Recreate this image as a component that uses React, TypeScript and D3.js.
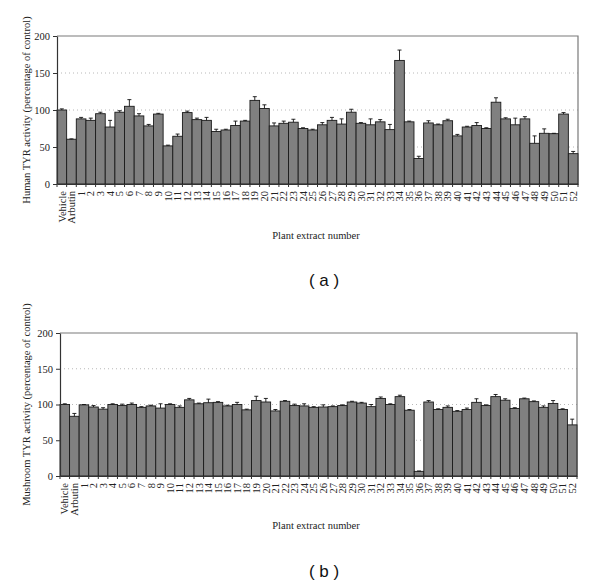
import React, { useRef, useEffect } from 'react';
import * as d3 from 'd3';

const categories = [
  'Vehicle', 'Arbutin', '1', '2', '3', '4', '5', '6', '7', '8', '9', '10', '11', '12', '13', '14', '15', '16',
  '17', '18', '19', '20', '21', '22', '23', '24', '25', '26', '27', '28', '29', '30', '31', '32', '33', '34',
  '35', '36', '37', '38', '39', '40', '41', '42', '43', '44', '45', '46', '47', '48', '49', '50', '51', '52',
];

const yTicks = [0, 50, 100, 150, 200];

const humanValues = [
  100, 60.5, 88, 86, 95, 77, 97, 105, 92, 78.5, 94.5, 51.5, 64.5, 96.5, 87, 86, 71, 73,
  79, 85, 113, 102, 78.5, 82, 83.5, 75, 73, 80, 86, 81, 97, 82, 80, 84, 73.5, 167,
  84, 34.5, 82.5, 80, 85.5, 65, 77, 79, 75, 110.5, 88, 80, 88, 55, 68.5, 68, 94.5, 41,
];
const humanErrors = [
  1.5, 0.5, 2, 3, 2, 9, 2, 9, 3, 2, 1, 1, 3, 2, 2, 4, 3, 1,
  6, 1, 5, 5, 4, 3, 4, 1, 1, 3, 4, 7, 4, 1, 8, 3, 7, 14,
  1, 3, 3, 1, 2, 2, 1, 4, 1, 6, 1.5, 9, 3, 10, 6, 0.5, 2, 3,
];

const mushroomValues = [
  100, 83.5, 99.5, 96.5, 93.5, 100, 98.5, 100, 96, 98, 95, 100, 96, 106.5, 101, 102.5, 103, 98,
  100, 92.5, 105.5, 103.5, 91, 104.5, 98.5, 98, 96, 96.5, 97, 98.5, 103.5, 102, 97, 108.5, 100, 111,
  92, 6.5, 103.5, 93, 96, 90.5, 93, 103, 98.5, 111, 106, 94.5, 108, 104, 96, 101.5, 93, 71.5,
];
const mushroomErrors = [
  1, 4, 0.5, 2, 2, 1, 2, 2, 1, 1, 6, 1, 2, 2, 1, 5, 1, 1,
  3, 1, 6, 5, 2, 1, 2, 3, 1, 3, 1, 1, 1, 1, 3, 2, 1, 2,
  1, 0.5, 2, 1, 2, 1, 2, 5, 1, 3, 2, 1, 1, 1, 2, 4, 1, 8,
];

const serif = '"Liberation Serif", "Times New Roman", serif';

const drawPanel = (svg, opts) => {
  const { left, right, top, bottom, values, errors, yTitle, xTitleY, tag, tagY } = opts;
  const g = svg.append('g');

  const x = d3.scaleBand().domain(categories).range([left, right]).padding(0);
  const y = d3.scaleLinear().domain([0, 200]).range([bottom, top]);

  // dotted grid
  g.selectAll('line.grid')
    .data([50, 100, 150])
    .enter()
    .append('line')
    .attr('x1', left)
    .attr('x2', right)
    .attr('y1', (d) => y(d))
    .attr('y2', (d) => y(d))
    .attr('stroke', '#b8b8b8')
    .attr('stroke-width', 1)
    .attr('stroke-dasharray', '1,3');

  // frame top + right
  g.append('path')
    .attr('d', `M${left},${y(200)}H${right}V${bottom}`)
    .attr('fill', 'none')
    .attr('stroke', '#7a7a7a')
    .attr('stroke-width', 1.2);

  // bars
  g.selectAll('rect.bar')
    .data(values)
    .enter()
    .append('rect')
    .attr('x', (d, i) => x(categories[i]))
    .attr('y', (d) => y(d))
    .attr('width', x.bandwidth())
    .attr('height', (d) => y(0) - y(d))
    .attr('fill', '#808080')
    .attr('stroke', '#1a1a1a')
    .attr('stroke-width', 0.9);

  // error bars (upper only)
  const eb = g.selectAll('g.err').data(values).enter().append('g');
  eb.append('line')
    .attr('x1', (d, i) => x(categories[i]) + x.bandwidth() / 2)
    .attr('x2', (d, i) => x(categories[i]) + x.bandwidth() / 2)
    .attr('y1', (d) => y(d))
    .attr('y2', (d, i) => y(d + errors[i]))
    .attr('stroke', '#111')
    .attr('stroke-width', 0.9);
  eb.append('line')
    .attr('x1', (d, i) => x(categories[i]) + x.bandwidth() / 2 - 2)
    .attr('x2', (d, i) => x(categories[i]) + x.bandwidth() / 2 + 2)
    .attr('y1', (d, i) => y(d + errors[i]))
    .attr('y2', (d, i) => y(d + errors[i]))
    .attr('stroke', '#111')
    .attr('stroke-width', 0.9);

  // y axis
  const ya = g.append('g')
    .attr('transform', `translate(${left},0)`)
    .call(d3.axisLeft(y).tickValues(yTicks).tickSize(4).tickSizeOuter(0).tickPadding(3));
  ya.select('.domain').attr('stroke', '#333').attr('stroke-width', 1.2);
  ya.selectAll('.tick line').attr('stroke', '#333');
  ya.selectAll('text').attr('font-family', serif).attr('font-size', 10.5).attr('fill', '#222');

  // x axis
  const xa = g.append('g')
    .attr('transform', `translate(0,${bottom})`)
    .call(d3.axisBottom(x).tickSize(0).tickSizeOuter(0).tickPadding(0));
  xa.select('.domain').attr('stroke', '#333').attr('stroke-width', 1.2);
  xa.selectAll('text')
    .attr('transform', 'rotate(-90)')
    .attr('text-anchor', 'end')
    .attr('x', -7)
    .attr('y', 0)
    .attr('dy', '0.35em')
    .attr('font-family', serif)
    .attr('font-size', 10.5)
    .attr('fill', '#222');
  g.selectAll('line.xt')
    .data(categories.concat(['end']))
    .enter()
    .append('line')
    .attr('x1', (d, i) => left + i * x.bandwidth())
    .attr('x2', (d, i) => left + i * x.bandwidth())
    .attr('y1', bottom)
    .attr('y2', bottom + 3)
    .attr('stroke', '#333');

  // titles
  g.append('text')
    .attr('transform', `translate(26,${(top + bottom) / 2}) rotate(-90)`)
    .attr('text-anchor', 'middle')
    .attr('dy', '0.35em')
    .attr('font-family', serif)
    .attr('font-size', 10.5)
    .attr('fill', '#222')
    .text(yTitle);
  g.append('text')
    .attr('x', 316)
    .attr('y', xTitleY)
    .attr('text-anchor', 'middle')
    .attr('font-family', serif)
    .attr('font-size', 10.5)
    .attr('fill', '#222')
    .text('Plant extract number');
  g.append('text')
    .attr('x', 324)
    .attr('y', tagY)
    .attr('text-anchor', 'middle')
    .attr('font-family', '"Liberation Sans", Arial, sans-serif')
    .attr('font-size', 17)
    .attr('fill', '#111')
    .text(tag);
};

const App = () => {
  const canvas = useRef(null);
  useEffect(() => {
    const svg = d3.select(canvas.current);
    svg.selectAll('*').remove();
    drawPanel(svg, {
      left: 57, right: 578, top: 36, bottom: 184,
      values: humanValues, errors: humanErrors,
      yTitle: 'Human TYR activity (percentage of control)',
      xTitleY: 239, tag: '( a )', tagY: 286,
    });
    drawPanel(svg, {
      left: 60, right: 577, top: 333, bottom: 476,
      values: mushroomValues, errors: mushroomErrors,
      yTitle: 'Mushroom TYR activity (percentage of control)',
      xTitleY: 529, tag: '( b )', tagY: 577,
    });
  }, []);
  return (
    <svg
      ref={canvas}
      width={600}
      height={584}
      style={{ position: 'absolute', left: 0, top: 0, background: '#fff' }}
    />
  );
};

export default App;
